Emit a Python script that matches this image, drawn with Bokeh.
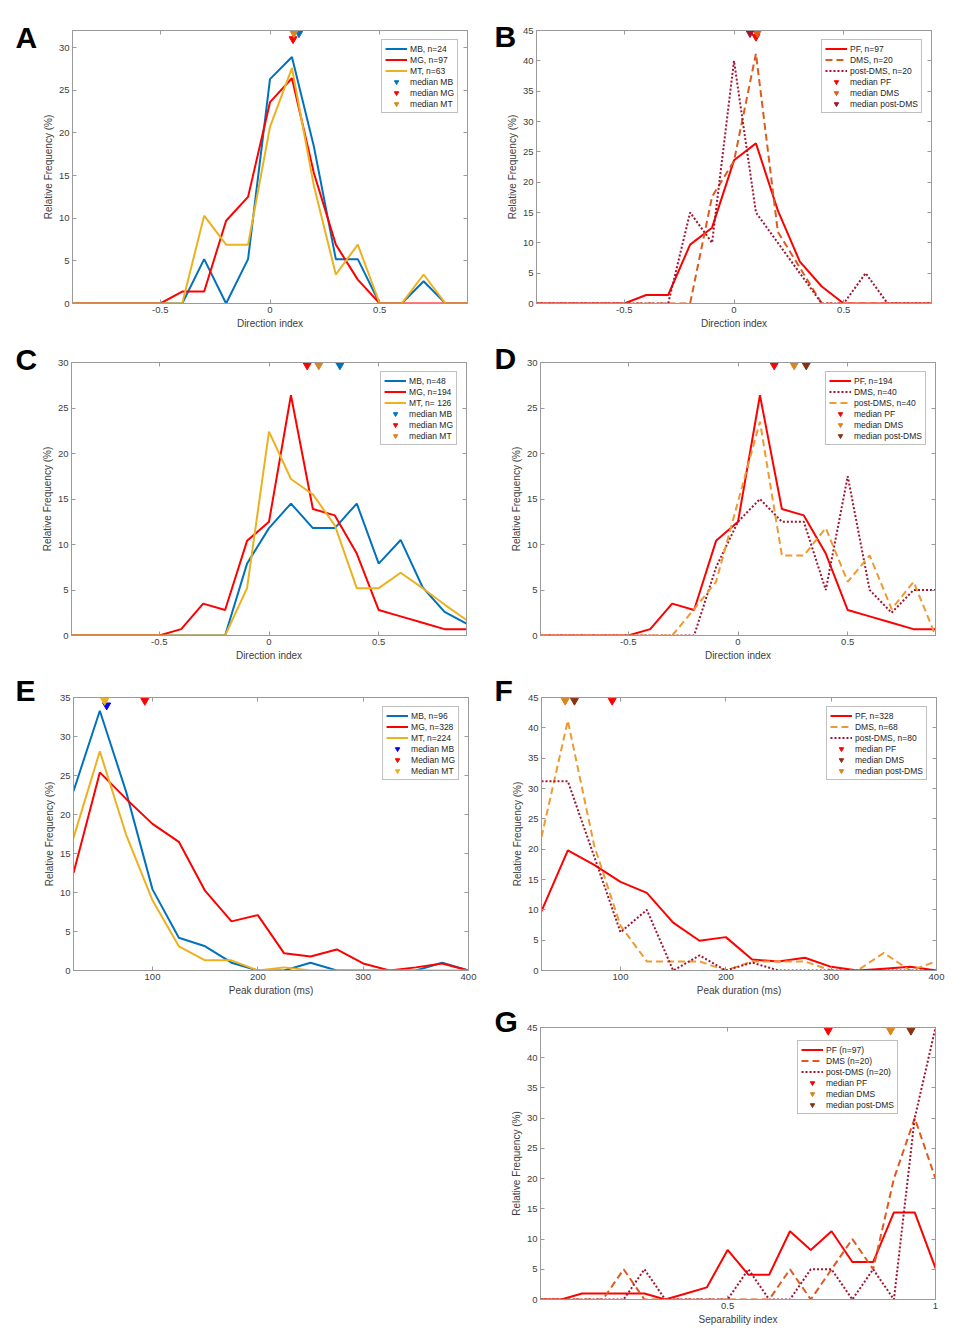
from bokeh.plotting import figure
from bokeh.models import Range1d, FixedTicker, LinearAxis, Legend, LegendItem, Label, Spacer
from bokeh.layouts import column, row
from bokeh.embed import file_html
from bokeh.resources import INLINE

FONT = "Liberation Sans"
BOX = "#9a9a9a"

# ---------------- data ----------------
x_dir = [-0.9, -0.8, -0.7, -0.6, -0.5, -0.4, -0.3, -0.2, -0.1, 0.0,
         0.1, 0.2, 0.3, 0.4, 0.5, 0.6, 0.7, 0.8, 0.9]
x_dur = [25, 50, 75, 100, 125, 150, 175, 200, 225, 250, 275, 300, 325, 350, 375, 400]
x_sep = [0.05, 0.1, 0.15, 0.2, 0.25, 0.3, 0.35, 0.4, 0.45, 0.5,
         0.55, 0.6, 0.65, 0.7, 0.75, 0.8, 0.85, 0.9, 0.95, 1.0]

# Panel A
a_mb = [0, 0, 0, 0, 0, 0, 5.2, 0, 5.2, 26.3, 28.9, 18.4, 5.2, 5.2, 0, 0, 2.6, 0, 0]
a_mg = [0, 0, 0, 0, 0, 1.4, 1.4, 9.7, 12.5, 23.6, 26.4, 15.3, 6.9, 2.8, 0, 0, 0, 0, 0]
a_mt = [0, 0, 0, 0, 0, 0, 10.3, 6.9, 6.9, 20.7, 27.6, 13.8, 3.4, 6.9, 0, 0, 3.4, 0, 0]
a_med_x = [0.132, 0.105, 0.109]
a_med_y = [31.7, 31.0, 31.7]
a_labels = ["MB, n=24", "MG, n=97", "MT, n=63", "median MB", "median MG", "median MT"]

# Panel B
b_pf = [0, 0, 0, 0, 0, 1.4, 1.4, 9.7, 12.5, 23.6, 26.4, 15.3, 6.9, 2.8, 0, 0, 0, 0, 0]
b_dms = [0, 0, 0, 0, 0, 0, 0, 0, 17.6, 23.5, 41.2, 11.8, 5.9, 0, 0, 0, 0, 0, 0]
b_post = [0, 0, 0, 0, 0, 0, 0, 15, 10, 40, 15, 10, 5, 0, 0, 5, 0, 0, 0]
b_med_x = [0.10, 0.106, 0.073]
b_med_y = [44.0, 44.6, 44.6]
b_labels = ["PF, n=97", "DMS, n=20", "post-DMS, n=20", "median PF", "median DMS", "median post-DMS"]

# Panel C
c_mb = [0, 0, 0, 0, 0, 0, 0, 0, 7.9, 11.8, 14.5, 11.8, 11.8, 14.5, 7.9, 10.5, 5.3, 2.6, 1.3]
c_mg = [0, 0, 0, 0, 0, 0.7, 3.5, 2.8, 10.4, 12.5, 26.4, 13.9, 13.2, 9.0, 2.8, 2.1, 1.4, 0.7, 0.7]
c_mt = [0, 0, 0, 0, 0, 0, 0, 0, 5.2, 22.4, 17.2, 15.5, 12.1, 5.2, 5.2, 6.9, 5.2, 3.4, 1.7]
c_med_x = [0.323, 0.174, 0.227]
c_med_y = [29.7, 29.7, 29.7]
c_labels = ["MB, n=48", "MG, n=194", "MT, n= 126", "median MB", "median MG", "median MT"]

# Panel D
d_pf = [0, 0, 0, 0, 0, 0.7, 3.5, 2.8, 10.4, 12.5, 26.4, 13.9, 13.2, 9.0, 2.8, 2.1, 1.4, 0.7, 0.7]
d_dms = [0, 0, 0, 0, 0, 0, 0, 0, 7.5, 12.5, 15, 12.5, 12.5, 5, 17.5, 5, 2.5, 5, 5]
d_post = [0, 0, 0, 0, 0, 0, 0, 2.9, 5.9, 14.7, 23.5, 8.8, 8.8, 11.8, 5.9, 8.8, 2.9, 5.9, 0]
d_med_x = [0.165, 0.256, 0.311]
d_med_y = [29.7, 29.7, 29.7]
d_labels = ["PF, n=194", "DMS, n=40", "post-DMS, n=40", "median PF", "median DMS", "median post-DMS"]

# Panel E
e_mb = [23.0, 33.3, 22.9, 10.4, 4.2, 3.1, 1.0, 0, 0, 1.0, 0, 0, 0, 0, 1.0, 0]
e_mg = [12.5, 25.4, 22.0, 18.8, 16.5, 10.2, 6.3, 7.1, 2.2, 1.8, 2.7, 0.9, 0, 0.4, 0.9, 0]
e_mt = [17.0, 28.1, 17.4, 9.0, 3.1, 1.3, 1.3, 0, 0.4, 0, 0, 0, 0, 0, 0, 0]
e_med_x = [56.5, 92.7, 54.6]
e_med_y = [34.0, 34.6, 34.6]
e_labels = ["MB, n=96", "MG, n=328", "MT, n=224", "median MB", "Median MG", "Median MT"]

# Panel F
f_pf = [9.8, 19.8, 17.4, 14.6, 12.8, 7.9, 4.9, 5.5, 1.8, 1.5, 2.1, 0.6, 0, 0.3, 0.6, 0]
f_dms = [22.0, 41.2, 20.6, 7.4, 1.5, 1.5, 1.5, 0, 1.5, 1.5, 1.5, 0, 0, 2.9, 0, 1.5]
f_post = [31.2, 31.2, 18.8, 6.3, 10.0, 0, 2.5, 0, 1.3, 0, 0, 0, 0, 0, 0, 0]
f_med_x = [92.1, 56.3, 47.5]
f_med_y = [44.5, 44.5, 44.5]
f_labels = ["PF, n=328", "DMS, n=68", "post-DMS, n=80", "median PF", "median DMS", "median post-DMS"]

# Panel G
g_pf = [0, 0, 1, 1, 1, 1, 0, 1, 2, 8.2, 4.1, 4.1, 11.3, 8.2, 11.3, 6.2, 6.2, 14.4, 14.4, 5.2]
g_dms = [0, 0, 0, 0, 5, 0, 0, 0, 0, 0, 0, 0, 5, 0, 5, 10, 5, 20, 30, 20]
g_post = [0, 0, 0, 0, 0, 5, 0, 0, 0, 0, 5, 0, 0, 5, 5, 0, 5, 0, 30, 45]
g_med_x = [0.742, 0.892, 0.941]
g_med_y = [44.5, 44.5, 44.5]
g_labels = ["PF (n=97)", "DMS (n=20)", "post-DMS (n=20)", "median PF", "median DMS", "median post-DMS"]

# ---------------- colours / styles ----------------
BLUE = "#0072BD"
RED = "#FF0000"
YEL = "#EDB120"
ORMED = "#D98520"
REDOR = "#DE5A1E"
DKRED = "#A2142F"
LTOR = "#EE9A30"
BROWN = "#8B3010"
PUREBLUE = "#0000FF"
SOLID = "solid"
DASH = "7 4"
DOT = "2 2"


def style_axis(ax, labels=True):
    ax.axis_line_color = BOX
    ax.major_tick_line_color = BOX
    ax.major_tick_in = 4
    ax.major_tick_out = 0
    ax.minor_tick_line_color = None
    ax.major_label_text_font = FONT
    ax.axis_label_text_font = FONT
    ax.axis_label_text_font_size = "10px"
    ax.axis_label_text_font_style = "normal"
    ax.axis_label_text_color = "#404040"
    if labels:
        ax.major_label_text_color = "#404040"
        ax.major_label_text_font_size = "9.5px"
        ax.major_label_standoff = 3
        ax.axis_label_standoff = 2
    else:
        ax.major_label_text_color = None
        ax.major_label_text_font_size = "1px"
        ax.major_label_standoff = 0


def make_panel(x, lines, med_x, med_y, med_colors, labels, xr, ymax, xticks, xover,
               xlabel, width, height, borders, legend_loc, letter, lpos, legend_margin=9):
    left, right, top, bottom = borders
    p = figure(width=width, height=height, x_range=Range1d(*xr), y_range=Range1d(0, ymax),
               output_backend="svg", toolbar_location=None,
               min_border_left=left, min_border_right=right,
               min_border_top=top, min_border_bottom=bottom)
    p.grid.visible = False
    p.outline_line_color = BOX
    p.outline_line_width = 1
    p.background_fill_color = "white"
    p.border_fill_color = "white"

    yticks = list(range(0, ymax + 1, 5))
    p.xaxis.ticker = FixedTicker(ticks=xticks)
    p.yaxis.ticker = FixedTicker(ticks=yticks)
    p.xaxis.major_label_overrides = xover
    p.xaxis.axis_label = xlabel
    p.yaxis.axis_label = "Relative Frequency (%)"
    style_axis(p.xaxis[0])
    style_axis(p.yaxis[0])
    top_ax = LinearAxis(ticker=FixedTicker(ticks=xticks))
    right_ax = LinearAxis(ticker=FixedTicker(ticks=yticks))
    style_axis(top_ax, labels=False)
    style_axis(right_ax, labels=False)
    p.add_layout(top_ax, "above")
    p.add_layout(right_ax, "right")

    rends = []
    for y, color, dash in lines:
        r = p.line(x, y, line_color=color, line_width=2, line_dash=dash)
        rends.append(r)
    for mx, my, mc in zip(med_x, med_y, med_colors):
        r = p.scatter([mx], [my], marker="inverted_triangle", size=8,
                      fill_color=mc, line_color=mc)
        rends.append(r)

    legend = Legend(items=[LegendItem(label=lab, renderers=[r]) for lab, r in zip(labels, rends)],
                    location=legend_loc, margin=legend_margin, padding=3, spacing=0,
                    label_height=11, glyph_height=11, glyph_width=22, label_standoff=3,
                    label_text_font=FONT, label_text_font_size="8.5px",
                    label_text_color="#262626", border_line_color="#808080",
                    border_line_width=1, background_fill_color="white",
                    background_fill_alpha=1.0)
    p.add_layout(legend)

    # panel letter: placed in the left side panel (not clipped by the frame)
    frame_w = width - left - right
    frame_h = height - top - bottom
    dx, dy = lpos   # pixels left of frame edge, pixels below frame top
    lx = xr[0] - dx * (xr[1] - xr[0]) / frame_w
    ly = ymax - dy * ymax / frame_h
    p.add_layout(Label(x=lx, y=ly, x_units="data", y_units="data", text=letter,
                       text_font=FONT, text_font_style="bold", text_font_size="30px",
                       text_color="black", text_baseline="alphabetic", text_align="left"),
                 "left")
    return p


dir_ticks = [-0.5, 0, 0.5]
dir_over = {-0.5: "-0.5", 0: "0", 0.5: "0.5"}
dur_ticks = [100, 200, 300, 400]
dur_over = {100: "100", 200: "200", 300: "300", 400: "400"}
sep_ticks = [0.5, 1]
sep_over = {0.5: "0.5", 1: "1"}

H1, H2, H3, H4 = 340, 335, 330, 335

pA = make_panel(x_dir, [(a_mb, BLUE, SOLID), (a_mg, RED, SOLID), (a_mt, YEL, SOLID)],
                a_med_x, a_med_y, [BLUE, RED, ORMED], a_labels, (-0.9, 0.9), 32,
                dir_ticks, dir_over, "Direction index",
                480, H1, (72, 13, 30, 37), "top_right", "A", (57, 7))
pB = make_panel(x_dir, [(b_pf, RED, SOLID), (b_dms, REDOR, DASH), (b_post, DKRED, DOT)],
                b_med_x, b_med_y, [RED, REDOR, DKRED], b_labels, (-0.9, 0.9), 45,
                dir_ticks, dir_over, "Direction index",
                480, H1, (56, 29, 30, 37), "top_right", "B", (42, 6))
pC = make_panel(x_dir, [(c_mb, BLUE, SOLID), (c_mg, RED, SOLID), (c_mt, YEL, SOLID)],
                c_med_x, c_med_y, [BLUE, RED, ORMED], c_labels, (-0.9, 0.9), 30,
                dir_ticks, dir_over, "Direction index",
                480, H2, (71, 14, 22, 40), "top_right", "C", (56, -3))
pD = make_panel(x_dir, [(d_pf, RED, SOLID), (d_dms, DKRED, DOT), (d_post, LTOR, DASH)],
                d_med_x, d_med_y, [RED, ORMED, BROWN], d_labels, (-0.9, 0.9), 30,
                dir_ticks, dir_over, "Direction index",
                480, H2, (60, 25, 22, 40), "top_right", "D", (46, -4))
pE = make_panel(x_dur, [(e_mb, BLUE, SOLID), (e_mg, RED, SOLID), (e_mt, YEL, SOLID)],
                e_med_x, e_med_y, [PUREBLUE, RED, YEL], e_labels, (25, 400), 35,
                dur_ticks, dur_over, "Peak duration (ms)",
                480, H3, (73, 12, 22, 35), "top_right", "E", (58, -7))
pF = make_panel(x_dur, [(f_pf, RED, SOLID), (f_dms, LTOR, DASH), (f_post, DKRED, DOT)],
                f_med_x, f_med_y, [RED, BROWN, ORMED], f_labels, (25, 400), 45,
                dur_ticks, dur_over, "Peak duration (ms)",
                480, H3, (61, 24, 22, 35), "top_right", "F", (47, -7))
pG = make_panel(x_sep, [(g_pf, RED, SOLID), (g_dms, REDOR, DASH), (g_post, DKRED, DOT)],
                g_med_x, g_med_y, [RED, ORMED, BROWN], g_labels, (0.05, 1.0), 45,
                sep_ticks, sep_over, "Separability index",
                480, H4, (60, 25, 22, 41), (257, 185), "G", (46, -6))

layout = column(row(pA, pB),
                row(pC, pD),
                row(pE, pF),
                row(Spacer(width=480, height=H4), pG))

open("out.html", "w").write(file_html(layout, INLINE))
